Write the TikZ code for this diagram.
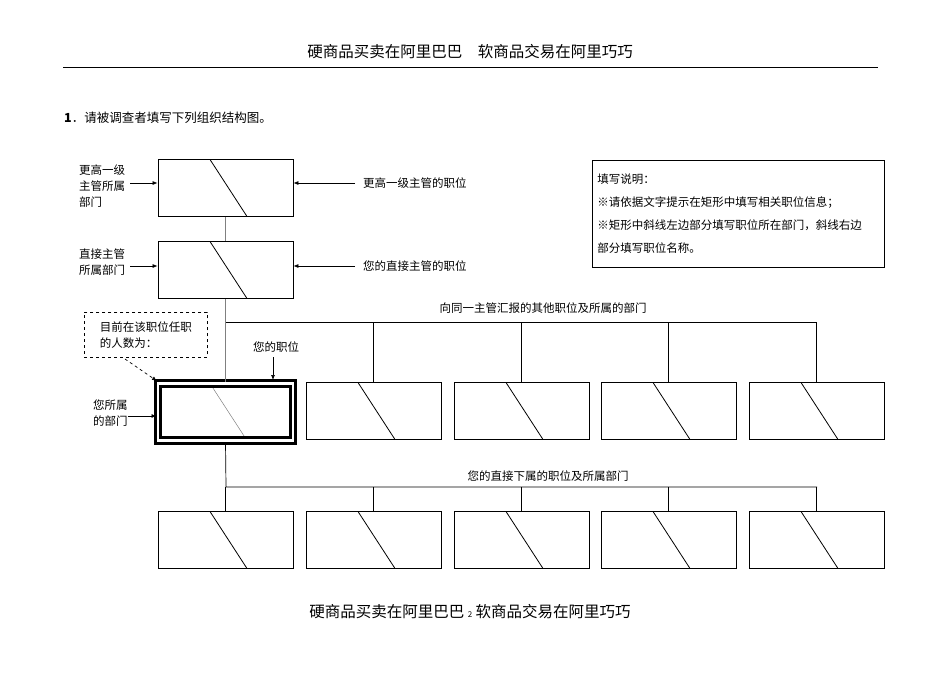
\documentclass[tikz,border=0pt]{standalone}
\usepackage{fontspec}
\setmainfont{Liberation Serif}
\newfontfamily\cjk{Noto Sans CJK SC}
\usetikzlibrary{positioning,calc}
\tikzset{
    orgbox/.style={draw, line width=0.8pt, minimum width=135pt, minimum height=57pt, inner sep=0pt,
        path picture={\draw[line width=0.8pt] ($(path picture bounding box.north west)+(52pt,0)$) -- ($(path picture bounding box.south west)+(89pt,0)$);}},
    lbl/.style={font=\cjk\fontsize{11.5}{16}\selectfont, inner sep=1pt, align=left},
    arr/.style={-{Latex[length=5pt,width=4pt]}, line width=0.7pt}
}
\usetikzlibrary{arrows.meta}
\begin{document}
\begin{tikzpicture}[x=1pt,y=-1pt]
    \useasboundingbox (0,0) rectangle (950,672);

    % Header and footer
    \node[font=\cjk\fontsize{15.5}{17}\selectfont] (head) at (470,52) {硬商品买卖在阿里巴巴　软商品交易在阿里巧巧};
    \draw[line width=0.6pt] (63,67) -- (878,67);
    \node[font=\cjk\fontsize{15.5}{17}\selectfont] (foot) at (470,612) {硬商品买卖在阿里巴巴 {\fontsize{8}{9}\selectfont 2} 软商品交易在阿里巧巧};
    \node[lbl, font=\cjk\fontsize{12.5}{15}\selectfont, anchor=west] (title) at (63,118) {\textbf{1}．请被调查者填写下列组织结构图。};

    % Upper levels
    \node[orgbox] (top) at (225.5,188) {};
    \node[orgbox] (boss) at (225.5,270) {};
    \node[orgbox, line width=3pt, double=white, double distance=2.2pt,
          path picture={\draw[gray, line width=0.5pt] ($(path picture bounding box.north west)+(52pt,0)$) -- ($(path picture bounding box.south west)+(89pt,0)$);}]
          (me) at (225.5,412) {};
    \draw[gray, line width=0.8pt] (top) -- (boss);
    \draw[gray, line width=0.8pt] (boss) -- (me);

    % Peers and subordinates
    \coordinate (peerbar) at (226,322);
    \coordinate (subbar) at (226,487);
    \draw[line width=0.7pt] (peerbar) -- (817,322);
    \draw[line width=0.7pt] (me.south) -- (subbar) -- (817,487);
    \foreach \i/\x in {1/373.5,2/521.5,3/668.5,4/816.5}{
        \node[orgbox] (peer\i) at (\x,411) {};
        \draw[line width=0.7pt] (\x,322) -- (peer\i.north);
    }
    \foreach \i/\x in {0/225.5,1/373.5,2/521.5,3/668.5,4/816.5}{
        \node[orgbox] (sub\i) at (\x,540) {};
        \draw[line width=0.7pt] (\x,487) -- (sub\i.north);
    }
    \node[lbl] (peertxt) at (543,308) {向同一主管汇报的其他职位及所属的部门};
    \node[lbl] (subtxt) at (548,476) {您的直接下属的职位及所属部门};

    % Left side labels
    \node[lbl, anchor=west] (topdep) at (78,186) {更高一级\\主管所属\\部门};
    \node[lbl, anchor=west] (bossdep) at (78,262) {直接主管\\所属部门};
    \node[lbl, anchor=west] (mydep) at (92,413) {您所属\\的部门};
    \draw[arr] (130,183) -- (top.west |- 0,183);
    \draw[arr] (130,266) -- (boss.west |- 0,266);
    \draw[arr] (128,416) -- (me.west |- 0,416);

    % Right side labels
    \node[lbl, anchor=west] (toppos) at (362,183) {更高一级主管的职位};
    \node[lbl, anchor=west] (bosspos) at (362,266) {您的直接主管的职位};
    \draw[arr] ($(toppos.west)+(-7,0)$) -- (top.east |- toppos.west);
    \draw[arr] ($(bosspos.west)+(-7,0)$) -- (boss.east |- bosspos.west);
    \node[lbl] (mypos) at (276,347) {您的职位};
    \draw[arr] (273,357) -- (273,380);

    % Head count note
    \node[draw, dashed, line width=0.6pt, lbl, minimum width=123pt, minimum height=45pt, inner sep=4pt, anchor=north west]
        (count) at (84,312) {目前在该职位任职\\的人数为：};
    \draw[arr, dashed] (125,359) -- (157,381);

    % Instructions
    \node[draw, line width=0.6pt, lbl, font=\cjk\fontsize{11.5}{23}\selectfont, minimum width=292pt, minimum height=107pt,
          text width=282pt, inner sep=5pt, anchor=north west] (note) at (592,160)
        {填写说明：\\※请依据文字提示在矩形中填写相关职位信息；\\※矩形中斜线左边部分填写职位所在部门，斜线右边\\部分填写职位名称。};
\end{tikzpicture}
\end{document}
